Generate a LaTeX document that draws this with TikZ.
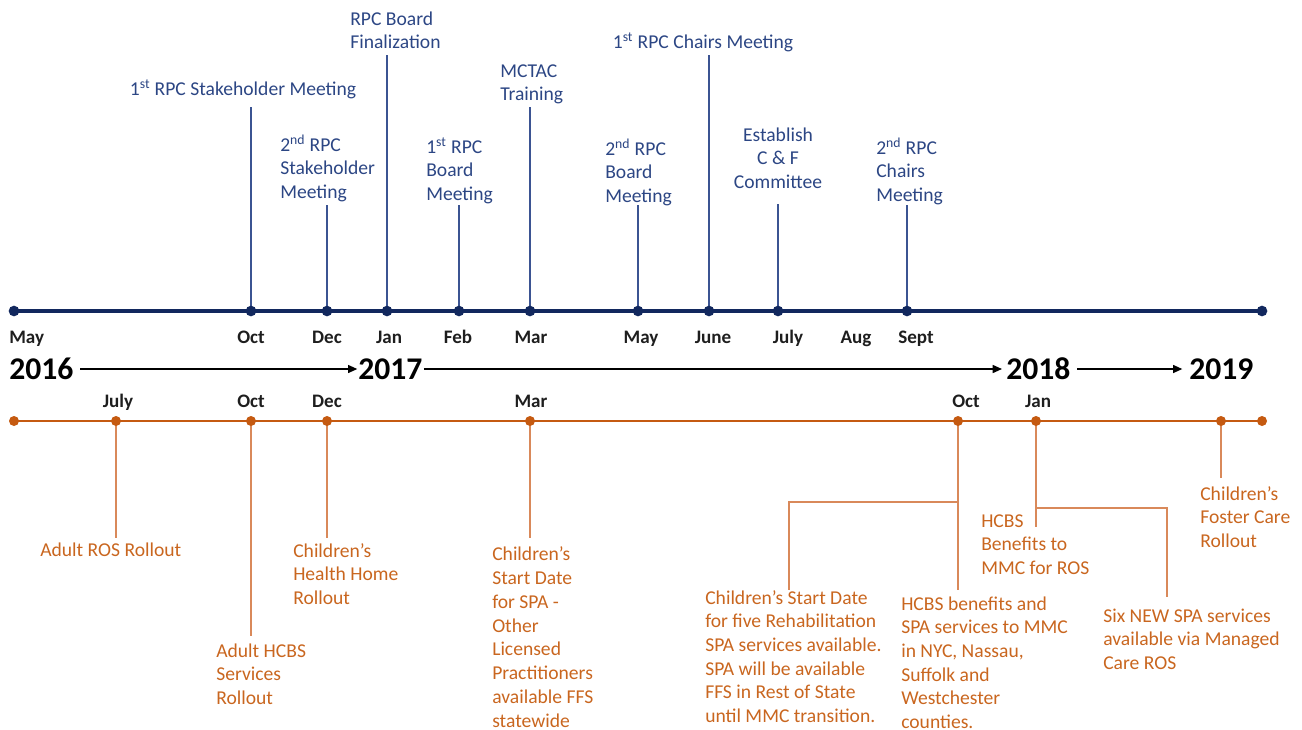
\documentclass[tikz,border=0pt]{standalone}
\usepackage{fontspec}
\setmainfont{Carlito}
\usetikzlibrary{arrows.meta}
\definecolor{navy}{HTML}{12285E}
\definecolor{bvline}{HTML}{3B5492}
\definecolor{btext}{HTML}{2C4684}
\definecolor{oline}{HTML}{C55A11}
\definecolor{ovline}{HTML}{D9895A}
\definecolor{otext}{HTML}{C9661F}
\definecolor{montxt}{HTML}{1E1E1E}
\begin{document}
\begin{tikzpicture}[x=0.75pt,y=-0.75pt,
  bmain/.style={draw=navy,line width=2.4pt},
  omain/.style={draw=oline,line width=2.2pt},
  bvert/.style={draw=bvline,line width=1.1pt},
  overt/.style={draw=ovline,line width=1.1pt},
  bdot/.style={circle,fill=navy,inner sep=0pt,minimum size=8pt},
  odot/.style={circle,fill=oline,inner sep=0pt,minimum size=7.5pt},
  blab/.style={font=\fontsize{14.7}{17.6}\selectfont,text=btext,inner sep=0pt,align=left},
  blabc/.style={font=\fontsize{14.7}{17.6}\selectfont,text=btext,inner sep=0pt,align=center},
  olab/.style={font=\fontsize{14.7}{17.8}\selectfont,text=otext,inner sep=0pt,align=left},
  mon/.style={font=\fontsize{14.3}{17}\selectfont\bfseries,text=montxt,inner sep=0pt},
  yr/.style={font=\fontsize{23.7}{28}\selectfont\bfseries,text=black,inner sep=0pt},
  yarrow/.style={draw=black,line width=1.1pt,-{Triangle[length=7pt,width=6pt]}}
]
\useasboundingbox (0,0) rectangle (1302,729);

% ---------- blue timeline coordinates ----------
\coordinate (b0) at (14,311);
\coordinate (boct) at (251,311);
\coordinate (bdec) at (327,311);
\coordinate (bjan) at (387,311);
\coordinate (bfeb) at (459,311);
\coordinate (bmar) at (530,311);
\coordinate (bmay) at (638,311);
\coordinate (bjun) at (709,311);
\coordinate (bjul) at (778,311);
\coordinate (bsep) at (907,311);
\coordinate (bend) at (1262,311);

\coordinate (toct) at (251,107);
\coordinate (tdec) at (327,205);
\coordinate (tjan) at (387,55);
\coordinate (tfeb) at (459,205);
\coordinate (tmar) at (530,107);
\coordinate (tmay) at (638,205);
\coordinate (tjun) at (709,55);
\coordinate (tjul) at (778,204);
\coordinate (tsep) at (907,205);

\draw[bmain] (b0) -- (bend);
\foreach \a/\b in {boct/toct,bdec/tdec,bjan/tjan,bfeb/tfeb,bmar/tmar,bmay/tmay,bjun/tjun,bjul/tjul,bsep/tsep}
  \draw[bvert] (\a) -- (\b);
\foreach \c in {b0,boct,bdec,bjan,bfeb,bmar,bmay,bjun,bjul,bsep,bend}
  \node[bdot] (n\c) at (\c) {};

% blue labels (anchor = baseline of the last line)
\node[blab,anchor=base] (l1) at (243,95) {1\textsuperscript{st} RPC Stakeholder Meeting};
\node[blab,anchor=base west] (l2) at (280,198) {2\textsuperscript{nd} RPC\\Stakeholder\\Meeting};
\node[blab,anchor=base west] (l3) at (350,48.5) {RPC Board\\Finalization};
\node[blab,anchor=base west] (l4) at (426,200) {1\textsuperscript{st} RPC\\Board\\Meeting};
\node[blab,anchor=base west] (l5) at (500,100.5) {MCTAC\\Training};
\node[blab,anchor=base west] (l6) at (605,202) {2\textsuperscript{nd} RPC\\Board\\Meeting};
\node[blab,anchor=base] (l7) at (703,48) {1\textsuperscript{st} RPC Chairs Meeting};
\node[blabc,anchor=base] (l8) at (778,188) {Establish\\C \& F\\Committee};
\node[blab,anchor=base west] (l9) at (876,201) {2\textsuperscript{nd} RPC\\Chairs\\Meeting};

% month labels (top)
\node[mon,anchor=base west] (m1) at (9,343) {May};
\node[mon,anchor=base] (m2) at (251,343) {Oct};
\node[mon,anchor=base] (m3) at (327,343) {Dec};
\node[mon,anchor=base] (m4) at (389,343) {Jan};
\node[mon,anchor=base] (m5) at (458,343) {Feb};
\node[mon,anchor=base] (m6) at (531,343) {Mar};
\node[mon,anchor=base] (m7) at (641,343) {May};
\node[mon,anchor=base] (m8) at (713,343) {June};
\node[mon,anchor=base] (m9) at (788,343) {July};
\node[mon,anchor=base] (m10) at (856,343) {Aug};
\node[mon,anchor=base] (m11) at (916,343) {Sept};

% years
\node[yr,anchor=base west] (y16) at (9,379) {2016};
\node[yr,anchor=base west] (y17) at (358,379) {2017};
\node[yr,anchor=base west] (y18) at (1006,379) {2018};
\node[yr,anchor=base west] (y19) at (1189,379) {2019};
\draw[yarrow] ([xshift=5pt]y16.east|-0,369) -- ([xshift=-0.5pt]y17.west|-0,369);
\draw[yarrow] ([xshift=1pt]y17.east|-0,369) -- ([xshift=-3pt]y18.west|-0,369);
\draw[yarrow] ([xshift=5pt]y18.east|-0,369) -- ([xshift=-5pt]y19.west|-0,369);

% month labels (bottom)
\node[mon,anchor=base] (p1) at (118,407) {July};
\node[mon,anchor=base] (p2) at (251,407) {Oct};
\node[mon,anchor=base] (p3) at (327,407) {Dec};
\node[mon,anchor=base] (p4) at (531,407) {Mar};
\node[mon,anchor=base] (p5) at (966,407) {Oct};
\node[mon,anchor=base] (p6) at (1038,407) {Jan};

% ---------- orange timeline ----------
\coordinate (o0) at (14,421);
\coordinate (ojul) at (116,421);
\coordinate (ooct) at (251,421);
\coordinate (odec) at (327,421);
\coordinate (omar) at (530,421);
\coordinate (ooct2) at (958,421);
\coordinate (ojan) at (1036,421);
\coordinate (o19) at (1221,421);
\coordinate (oend) at (1262,421);

\coordinate (ejul) at (116,538);
\coordinate (eoct) at (251,636);
\coordinate (edec) at (327,538);
\coordinate (emar) at (530,538);
\coordinate (eoct2) at (958,590);
\coordinate (joct2) at (958,502);
\coordinate (loct2) at (789,590);
\coordinate (ejan) at (1036,527);
\coordinate (jjan) at (1036,508);
\coordinate (rjan) at (1167,597);
\coordinate (e19) at (1221,478);

\draw[omain] (o0) -- (oend);
\foreach \a/\b in {ojul/ejul,ooct/eoct,odec/edec,omar/emar,ooct2/eoct2,ojan/ejan,o19/e19}
  \draw[overt] (\a) -- (\b);
\draw[overt] (joct2) -| (loct2);
\draw[overt] (jjan) -| (rjan);
\foreach \c in {o0,ojul,ooct,odec,omar,ooct2,ojan,o19,oend}
  \node[odot] (n\c) at (\c) {};

% orange labels (anchor = baseline of the last line)
\node[olab,anchor=base west] (q1) at (40,556) {Adult ROS Rollout};
\node[olab,anchor=base west] (q2) at (216,704.5) {Adult HCBS\\Services\\Rollout};
\node[olab,anchor=base west] (q3) at (293,604.5) {Children’s\\Health Home\\Rollout};
\node[olab,anchor=base west] (q4) at (492,727) {Children’s\\Start Date\\for SPA -\\Other\\Licensed\\Practitioners\\available FFS\\statewide};
\node[olab,anchor=base west] (q5) at (705,722.7) {Children’s Start Date\\for five Rehabilitation\\SPA services available.\\SPA will be available\\FFS in Rest of State\\until MMC transition.};
\node[olab,anchor=base west] (q6) at (901,728.7) {HCBS benefits and\\SPA services to MMC\\in NYC, Nassau,\\Suffolk and\\Westchester\\counties.};
\node[olab,anchor=base west] (q7) at (981,574.5) {HCBS\\Benefits to\\MMC for ROS};
\node[olab,anchor=base west] (q8) at (1103,669.5) {Six NEW SPA services\\available via Managed\\Care ROS};
\node[olab,anchor=base west] (q9) at (1200,547.5) {Children’s\\Foster Care\\Rollout};
\end{tikzpicture}
\end{document}
